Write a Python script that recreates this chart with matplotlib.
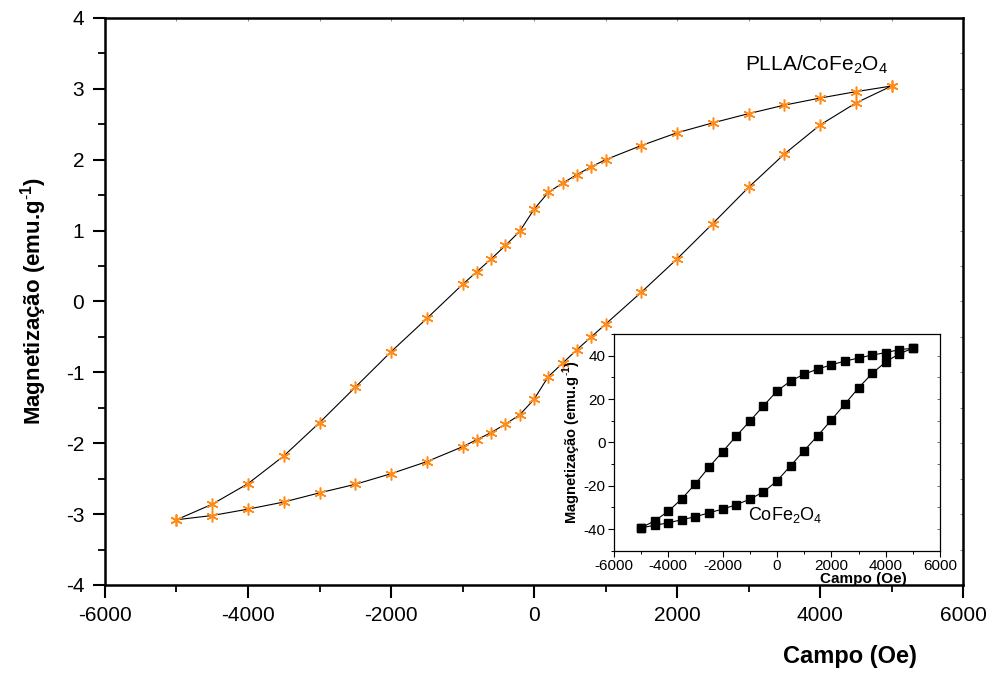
import numpy as np
import matplotlib
matplotlib.use("Agg")
from matplotlib import pyplot as plt
from matplotlib.ticker import MultipleLocator

plt.rcParams['font.family'] = ['Liberation Sans Narrow', 'Liberation Sans', 'DejaVu Sans']
plt.rcParams['axes.unicode_minus'] = False
plt.rcParams['mathtext.fontset'] = 'custom'
plt.rcParams['mathtext.rm'] = 'Liberation Sans'
plt.rcParams['mathtext.bf'] = 'Liberation Sans:bold'

# PLLA/CoFe2O4 loop: field going down from +5000, then back up from -5000
campo_desc = [5000, 4500, 4000, 3500, 3000, 2500, 2000, 1500, 1000, 800, 600, 400, 200, 0,
              -200, -400, -600, -800, -1000, -1500, -2000, -2500, -3000, -3500, -4000, -4500, -5000]
mag_desc = [3.04, 2.96, 2.87, 2.77, 2.65, 2.52, 2.38, 2.20, 2.00, 1.90, 1.79, 1.67, 1.54, 1.30,
            0.99, 0.79, 0.60, 0.42, 0.24, -0.24, -0.71, -1.21, -1.71, -2.18, -2.57, -2.86, -3.08]
campo_asc = [-5000, -4500, -4000, -3500, -3000, -2500, -2000, -1500, -1000, -800, -600, -400, -200, 0,
             200, 400, 600, 800, 1000, 1500, 2000, 2500, 3000, 3500, 4000, 4500, 5000]
mag_asc = [-3.08, -3.02, -2.93, -2.83, -2.70, -2.58, -2.43, -2.26, -2.05, -1.95, -1.85, -1.73, -1.60, -1.38,
           -1.06, -0.87, -0.68, -0.50, -0.32, 0.13, 0.60, 1.10, 1.61, 2.08, 2.49, 2.80, 3.04]

# pure CoFe2O4 loop for the inset
campo_ins = [5000, 4500, 4000, 3500, 3000, 2500, 2000, 1500, 1000, 500, 0,
             -500, -1000, -1500, -2000, -2500, -3000, -3500, -4000, -4500, -5000]
mag_ins_desc = [43.4, 42.8, 41.4, 40.3, 38.9, 37.5, 35.8, 33.8, 31.5, 28.3, 23.7,
                16.8, 9.8, 2.9, -4.3, -11.4, -19.1, -26.0, -31.8, -36.2, -39.4]
mag_ins_asc = [43.4, 40.9, 37.1, 31.8, 25.1, 17.7, 10.3, 3.1, -3.8, -10.8, -17.8,
               -22.9, -26.2, -28.8, -30.8, -32.5, -34.3, -35.7, -37.1, -38.3, -39.4]

laranja = "#ff8c1a"
rotulo_y = r"Magnetização (emu.g$^{\mathbf{\text{-}1}}$)"

fig = plt.figure(figsize=(9.98, 6.73), dpi=100)
ax = fig.add_axes([0.1052, 0.1308, 0.8598, 0.8425])

ax.plot(campo_desc + campo_asc, mag_desc + mag_asc, color="black", lw=0.8,
        marker=(6, 2, 0), ms=8.5, mec=laranja, mfc=laranja, mew=1.1)

ax.set_xlim(-6000, 6000)
ax.set_ylim(-4, 4)
ax.xaxis.set_major_locator(MultipleLocator(2000))
ax.xaxis.set_minor_locator(MultipleLocator(1000))
ax.yaxis.set_major_locator(MultipleLocator(1))
ax.yaxis.set_minor_locator(MultipleLocator(0.5))
ax.tick_params(which="major", direction="out", length=9, width=1.5, labelsize=15, pad=6)
ax.tick_params(which="minor", direction="out", length=5, width=1.3)
for s in ax.spines.values():
    s.set_linewidth(1.8)

# faint inner ticks on top and right
ax2 = ax.secondary_xaxis("top")
ax2.xaxis.set_major_locator(MultipleLocator(1000))
ax2.tick_params(direction="in", length=2, width=0.6, colors="#777777", labeltop=False)
ax2.spines["top"].set_visible(False)
ax3 = ax.secondary_yaxis("right")
ax3.yaxis.set_major_locator(MultipleLocator(0.5))
ax3.tick_params(direction="in", length=2, width=0.6, colors="#777777", labelright=False)
ax3.spines["right"].set_visible(False)

ax.set_ylabel(rotulo_y, fontsize=16, fontweight="bold", labelpad=12)
ax.set_xlabel("Campo (Oe)", fontsize=17, fontweight="bold")
ax.xaxis.set_label_coords(0.868, -0.105)

ax.text(2950, 3.26, r"PLLA/CoFe$_2$O$_4$", fontsize=15, family="Liberation Sans")

# inset
axi = fig.add_axes([0.6152, 0.1817, 0.3267, 0.3220])
axi.plot(campo_ins, mag_ins_desc, color="black", lw=0.8, marker="s", ms=5.5)
axi.plot(campo_ins[::-1], mag_ins_asc[::-1], color="black", lw=0.8, marker="s", ms=5.5)
axi.set_xlim(-6000, 6000)
axi.set_ylim(-50, 50)
axi.xaxis.set_major_locator(MultipleLocator(2000))
axi.xaxis.set_minor_locator(MultipleLocator(1000))
axi.yaxis.set_major_locator(MultipleLocator(20))
axi.yaxis.set_minor_locator(MultipleLocator(10))
axi.tick_params(which="major", direction="out", length=4, width=0.8, labelsize=11, pad=2)
axi.tick_params(which="minor", direction="out", length=2.5, width=0.7)
for s in axi.spines.values():
    s.set_linewidth(0.9)
axi4 = axi.secondary_yaxis("right")
axi4.yaxis.set_major_locator(MultipleLocator(10))
axi4.tick_params(direction="in", length=2, width=0.6, colors="#555555", labelright=False)
axi4.spines["right"].set_visible(False)

axi.set_ylabel(rotulo_y, fontsize=10.5, fontweight="bold")
axi.yaxis.set_label_coords(-0.095, 0.5)
axi.set_xlabel("Campo (Oe)", fontsize=11, fontweight="bold")
axi.xaxis.set_label_coords(0.764, -0.098)
axi.text(-1070, -36, r"CoFe$_2$O$_4$", fontsize=13, family="Liberation Sans")

fig.savefig("out.png", dpi=100)
